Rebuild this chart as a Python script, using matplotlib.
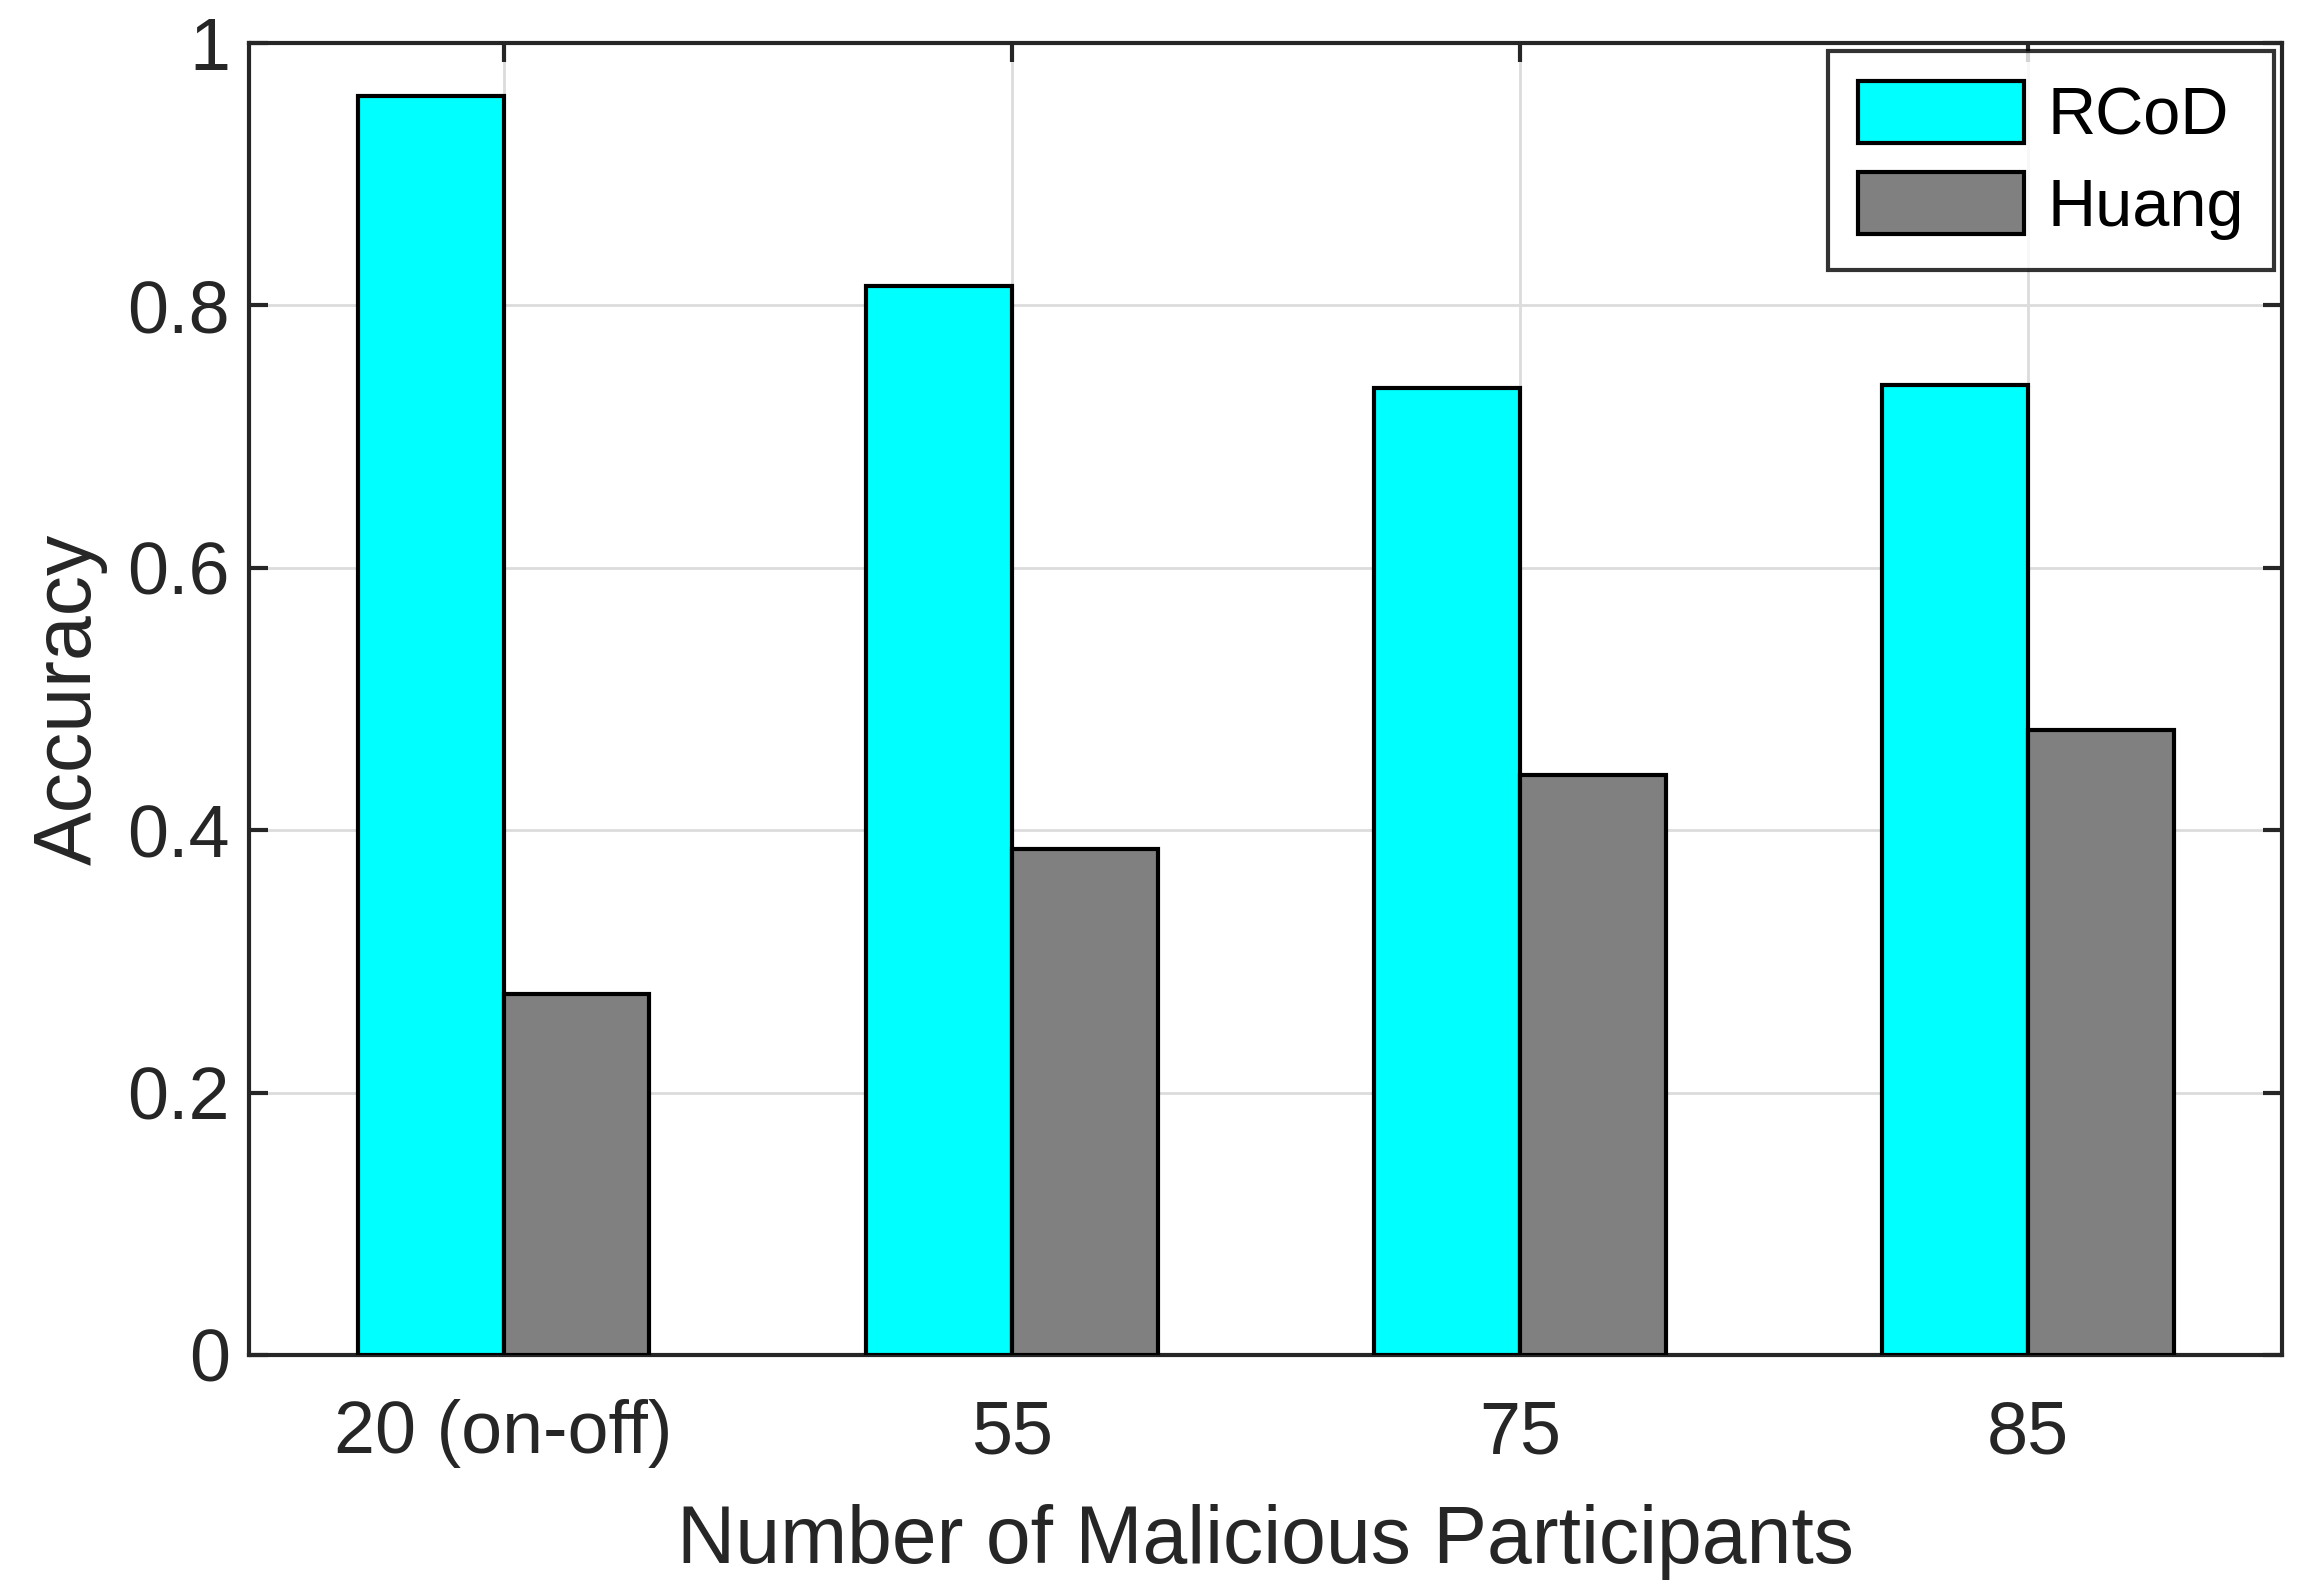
import matplotlib.pyplot as plt
import numpy as np

plt.rcParams['font.family'] = ['Liberation Sans', 'DejaVu Sans']

categories = ['20 (on-off)', '55', '75', '85']
rcod = [0.960, 0.815, 0.737, 0.739]
huang = [0.275, 0.386, 0.442, 0.476]

x = np.arange(1, len(categories) + 1)
w = 0.287

fig = plt.figure(figsize=(23.1, 15.94), dpi=100)
ax = fig.add_axes([0.108, 0.150, 0.880, 0.823])

ax.bar(x - w / 2, rcod, w, color='#00ffff', edgecolor='black', linewidth=3, label='RCoD', zorder=3)
ax.bar(x + w / 2, huang, w, color='#808080', edgecolor='black', linewidth=3, label='Huang', zorder=3)

ax.set_xlim(0.5, 4.5)
ax.set_ylim(0, 1)
ax.set_xticks(x)
ax.set_xticklabels(categories)
ax.set_yticks([0, 0.2, 0.4, 0.6, 0.8, 1])
ax.set_yticklabels(['0', '0.2', '0.4', '0.6', '0.8', '1'])
ax.grid(True, color='#dcdcdc', linewidth=2, zorder=0)
ax.set_axisbelow(True)
ax.tick_params(direction='in', length=14, width=3, labelsize=53, top=True, right=True, colors='#262626')
ax.tick_params(axis='x', pad=32)
ax.tick_params(axis='y', pad=14)
for s in ax.spines.values():
    s.set_linewidth(3)
    s.set_color('#262626')

ax.set_xlabel('Number of Malicious Participants', fontsize=58, color='#262626', labelpad=26)
ax.set_ylabel('Accuracy', fontsize=58, color='#262626', labelpad=14)

leg = ax.legend(loc='upper right', fontsize=48, frameon=True, fancybox=False,
                edgecolor='black', handlelength=2.5, handleheight=1.05,
                borderaxespad=0.12, handletextpad=0.35, labelspacing=0.35,
                borderpad=0.45)
leg.get_frame().set_linewidth(3)

fig.savefig('out.png', dpi=100)
